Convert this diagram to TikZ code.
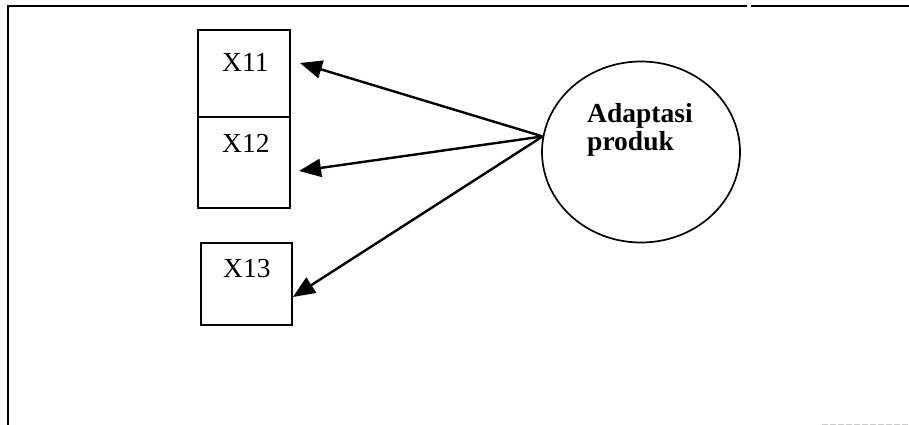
\documentclass[tikz,border=0pt]{standalone}
\usepackage{fontspec}
\setmainfont{Liberation Serif}
\usetikzlibrary{arrows.meta,shapes.geometric}

\tikzset{
  varbox/.style={draw, line width=1.7pt, rectangle, inner sep=0pt},
  boxtext/.style={anchor=base west, inner sep=0pt, font=\fontsize{27.5}{29}\selectfont},
  factor/.style={draw, line width=1.7pt, ellipse, inner sep=0pt,
                 minimum width=198pt, minimum height=181pt},
  factortext/.style={anchor=base west, inner sep=0pt, font=\bfseries\fontsize{27.5}{29}\selectfont},
  loading/.style={line width=2.4pt, -{Triangle[length=22pt,width=18pt]}},
  frame/.style={line width=2.4pt}
}

\begin{document}
\begin{tikzpicture}[x=1pt, y=-1pt]
  \useasboundingbox (0,0) rectangle (909,425);

  % outer frame: top and left rules only
  \draw[frame] (8,425) -- (8,6) -- (747,6);
  \draw[frame] (751,6) -- (909,6);
  \draw[gray!40, line width=1pt, dash pattern=on 6pt off 2pt] (822,424) -- (909,424);

  % indicator boxes
  \node[varbox, minimum width=92pt, minimum height=87pt] (b11) at (244,73.5) {};
  \node[varbox, minimum width=92pt, minimum height=91pt] (b12) at (244,162.5) {};
  \node[varbox, minimum width=91pt, minimum height=82pt] (b13) at (246.5,284) {};

  \node[boxtext] (t11) at (222,72) {X11};
  \node[boxtext] (t12) at (222,152) {X12};
  \node[boxtext] (t13) at (223,277) {X13};

  % latent construct
  \node[factor] (el) at (641,152) {};
  \node[factortext] (f1) at (587,122) {Adaptasi};
  \node[factortext] (f2) at (587,150) {produk};

  % arrow tips beside the boxes
  \coordinate (h11) at (300,63);
  \coordinate (h12) at (299,171);
  \coordinate (h13) at (b13.east |- 0,297);
  \coordinate (src) at (el.171);

  \draw[loading] (src) -- (h11);
  \draw[loading] (src) -- (h12);
  \draw[loading] (src) -- (h13);
\end{tikzpicture}
\end{document}
